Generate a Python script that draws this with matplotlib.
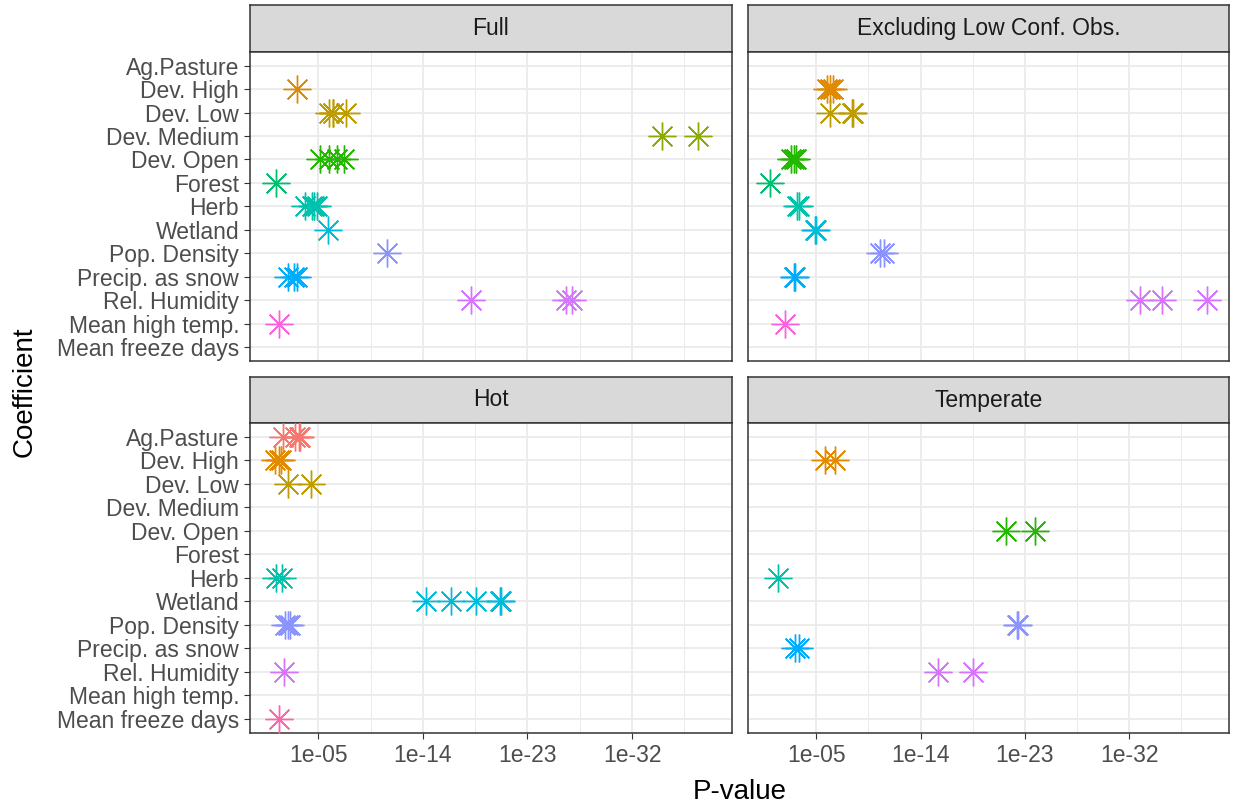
import numpy as np
import matplotlib
matplotlib.use("Agg")
import matplotlib.pyplot as plt

plt.rcParams['font.family'] = ['Liberation Sans', 'DejaVu Sans']

# =========================
# Data (P-values per coefficient)
# =========================
coefficients = ["Ag.Pasture", "Dev. High", "Dev. Low", "Dev. Medium", "Dev. Open",
                "Forest", "Herb", "Wetland", "Pop. Density", "Precip. as snow",
                "Rel. Humidity", "Mean high temp.", "Mean freeze days"]

coef_colors = ["#F8766D", "#E18A00", "#BE9C00", "#8CAB00", "#24B700",
               "#00BE70", "#00C1AB", "#00BBDA", "#8B93FF", "#00ACFC",
               "#D575FE", "#F962DD", "#FF65AC"]

panel_titles = ["Full", "Excluding Low Conf. Obs.", "Hot", "Temperate"]

full_coef = ["Dev. High",
             "Dev. Low", "Dev. Low", "Dev. Low", "Dev. Low",
             "Dev. Medium", "Dev. Medium",
             "Dev. Open", "Dev. Open", "Dev. Open", "Dev. Open",
             "Forest",
             "Herb", "Herb", "Herb", "Herb",
             "Wetland",
             "Pop. Density",
             "Precip. as snow", "Precip. as snow", "Precip. as snow",
             "Rel. Humidity", "Rel. Humidity", "Rel. Humidity",
             "Mean high temp."]
full_p = [7e-4,
          1.3e-6, 6e-7, 5e-7, 4e-8,
          2.5e-35, 2e-38,
          7e-6, 1.1e-6, 2.3e-7, 5.8e-8,
          4.5e-2,
          1.4e-4, 3.7e-5, 2.5e-5, 1.4e-5,
          1.4e-6,
          1.3e-11,
          3.9e-3, 1.3e-3, 7.2e-4,
          8e-19, 4.5e-27, 1.4e-27,
          2.5e-2]

excl_coef = ["Dev. High", "Dev. High", "Dev. High",
             "Dev. Low", "Dev. Low", "Dev. Low",
             "Dev. Open", "Dev. Open", "Dev. Open",
             "Forest",
             "Herb", "Herb",
             "Wetland", "Wetland",
             "Pop. Density", "Pop. Density",
             "Precip. as snow", "Precip. as snow",
             "Rel. Humidity", "Rel. Humidity", "Rel. Humidity",
             "Mean high temp."]
excl_p = [1.1e-6, 6e-7, 3.7e-7,
          6e-7, 8e-9, 7e-9,
          1.35e-3, 9e-4, 6e-4,
          0.1,
          4.4e-4, 3.2e-4,
          1.3e-5, 1e-5,
          3.2e-11, 1.3e-11,
          8e-4, 7e-4,
          1.3e-33, 1.6e-35, 2e-39,
          4.5e-3]

hot_coef = ["Ag.Pasture", "Ag.Pasture", "Ag.Pasture", "Ag.Pasture",
            "Dev. High", "Dev. High", "Dev. High",
            "Dev. Low", "Dev. Low",
            "Herb", "Herb",
            "Wetland", "Wetland", "Wetland", "Wetland", "Wetland",
            "Pop. Density", "Pop. Density", "Pop. Density",
            "Rel. Humidity",
            "Mean freeze days"]
hot_p = [1e-2, 1e-3, 5e-4, 4e-4,
         5e-2, 2.5e-2, 1.6e-2,
         4e-3, 4.5e-5,
         4e-2, 1.4e-2,
         5.5e-15, 4e-17, 2.5e-19, 2.5e-21, 2e-21,
         8e-3, 4e-3, 2.8e-3,
         9e-3,
         2.3e-2]

temp_coef = ["Dev. High", "Dev. High",
             "Dev. Open", "Dev. Open",
             "Herb",
             "Pop. Density", "Pop. Density",
             "Precip. as snow", "Precip. as snow",
             "Rel. Humidity", "Rel. Humidity"]
temp_p = [1.6e-6, 2.2e-7,
          4e-22, 1.3e-24,
          2e-2,
          4e-23, 5e-23,
          6.3e-4, 2.8e-4,
          3.2e-16, 3.2e-19]

x_breaks = [1e-5, 1e-14, 1e-23, 1e-32]
x_break_labels = ["1e-05", "1e-14", "1e-23", "1e-32"]

# =========================
# Figure and panel layout (pixels)
# =========================
W, H = 1233, 810
fig = plt.figure(figsize=(W / 100, H / 100), dpi=100)

def px_axes(x0, y0, x1, y1):
    return fig.add_axes([x0 / W, 1 - y1 / H, (x1 - x0) / W, (y1 - y0) / H])

cols = [(250, 732), (748, 1229)]
rows = [(5, 51.7, 361), (377.3, 422.7, 732.7)]

panel_data = [(full_coef, full_p), (excl_coef, excl_p), (hot_coef, hot_p), (temp_coef, temp_p)]
color_of = dict(zip(coefficients, coef_colors))
ypos = {c: len(coefficients) - 1 - i for i, c in enumerate(coefficients)}

border = "#333333"
grid_col = "#EBEBEB"

for k, (names, pvals) in enumerate(panel_data):
    r, c = divmod(k, 2)
    x0, x1 = cols[c]
    s0, p0, p1 = rows[r]

    # strip
    sax = px_axes(x0, s0, x1, p0)
    sax.set_facecolor("#D9D9D9")
    sax.set_xticks([])
    sax.set_yticks([])
    for sp in sax.spines.values():
        sp.set_color(border)
        sp.set_linewidth(1.1)
    sax.text(0.5, 0.5, panel_titles[k], ha="center", va="center",
             fontsize=16.5, color="#1A1A1A", transform=sax.transAxes)

    # panel
    ax = px_axes(x0, p0, x1, p1)
    ax.set_xscale("log")
    ax.set_xlim(10 ** 0.88, 10 ** -40.6)
    ax.set_ylim(-0.6, len(coefficients) - 0.4)
    ax.set_xticks(x_breaks)
    ax.set_xticks([10 ** -9.5, 10 ** -18.5, 10 ** -27.5, 10 ** -36.5], minor=True)
    ax.set_xticklabels(x_break_labels)
    ax.set_yticks([ypos[cn] for cn in coefficients])
    ax.set_yticklabels(coefficients)
    ax.grid(True, which="major", color=grid_col, linewidth=1.3)
    ax.grid(True, which="minor", axis="x", color=grid_col, linewidth=0.7)
    ax.set_axisbelow(True)
    ax.tick_params(which="minor", length=0)
    ax.tick_params(which="major", length=4.3, width=0.8, color=border,
                   labelsize=16.5, labelcolor="#4D4D4D", pad=3.5)
    for sp in ax.spines.values():
        sp.set_color(border)
        sp.set_linewidth(1.1)
    ax.set_zorder(2)

    if r == 0:
        ax.tick_params(bottom=False, labelbottom=False)
    if c == 1:
        ax.tick_params(left=False, labelleft=False)

    for nm, pv in zip(names, pvals):
        ax.plot(pv, ypos[nm], linestyle="none", marker=(8, 2, 0), markersize=20,
                markeredgewidth=1.0, color=color_of[nm], clip_on=False, zorder=3)

fig.text((250 + 1229) / 2 / W, 1 - 792 / H, "P-value", ha="center", va="center",
         fontsize=20, color="black")
fig.text(25 / W, 1 - 392 / H, "Coefficient", ha="center", va="center",
         rotation=90, fontsize=20, color="black")

fig.savefig("out.png", dpi=100)
